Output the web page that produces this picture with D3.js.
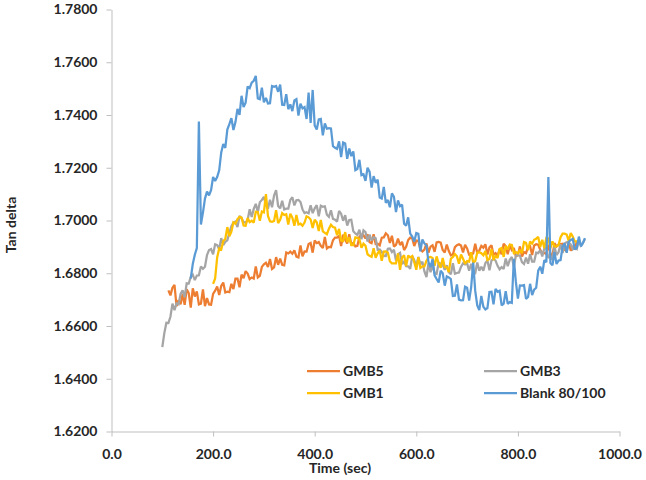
<!DOCTYPE html>
<html>
<head>
<meta charset="utf-8">
<script src="https://cdn.jsdelivr.net/npm/d3@7"></script>
<style>
  body { margin: 0; background: #fff; }
  svg { display: block; font-family: Lato, "Open Sans", sans-serif; }
</style>
</head>
<body>
<svg id="chart" width="646" height="480"></svg>
<script>
// traces were digitised every 4 seconds
const sampleStep = 4;

// GMB5 (starts at 112 s)
const gmb5Start = 112;
const gmb5Values = [
  1.6735, 1.6716, 1.6745, 1.6756, 1.6675, 1.6698, 1.6682, 1.6721, 1.6680, 1.6739, 1.6725, 1.6670, 1.6743, 1.6712, 1.6731, 1.6682, 1.6685, 1.6739, 1.6675, 1.6706,
  1.6682, 1.6681, 1.6722, 1.6734, 1.6750, 1.6718, 1.6752, 1.6765, 1.6727, 1.6730, 1.6728, 1.6760, 1.6740, 1.6780, 1.6780, 1.6747, 1.6795, 1.6781, 1.6808, 1.6799,
  1.6778, 1.6784, 1.6780, 1.6826, 1.6784, 1.6790, 1.6824, 1.6834, 1.6840, 1.6824, 1.6854, 1.6816, 1.6822, 1.6861, 1.6832, 1.6856, 1.6832, 1.6830, 1.6879, 1.6875,
  1.6882, 1.6874, 1.6887, 1.6863, 1.6860, 1.6905, 1.6864, 1.6883, 1.6882, 1.6911, 1.6915, 1.6878, 1.6924, 1.6914, 1.6918, 1.6904, 1.6896, 1.6938, 1.6894, 1.6900,
  1.6899, 1.6925, 1.6935, 1.6935, 1.6942, 1.6903, 1.6946, 1.6927, 1.6913, 1.6948, 1.6911, 1.6915, 1.6902, 1.6904, 1.6938, 1.6946, 1.6944, 1.6932, 1.6948, 1.6918,
  1.6914, 1.6948, 1.6911, 1.6912, 1.6906, 1.6935, 1.6936, 1.6951, 1.6944, 1.6915, 1.6942, 1.6901, 1.6908, 1.6931, 1.6907, 1.6919, 1.6888, 1.6900, 1.6926, 1.6935,
  1.6932, 1.6903, 1.6924, 1.6923, 1.6890, 1.6883, 1.6890, 1.6913, 1.6878, 1.6901, 1.6906, 1.6881, 1.6917, 1.6919, 1.6916, 1.6888, 1.6879, 1.6909, 1.6884, 1.6868,
  1.6871, 1.6899, 1.6906, 1.6910, 1.6905, 1.6879, 1.6908, 1.6894, 1.6870, 1.6869, 1.6875, 1.6912, 1.6876, 1.6886, 1.6904, 1.6897, 1.6910, 1.6871, 1.6898, 1.6906,
  1.6870, 1.6876, 1.6866, 1.6892, 1.6872, 1.6912, 1.6902, 1.6872, 1.6906, 1.6888, 1.6896, 1.6864, 1.6868, 1.6902, 1.6863, 1.6880, 1.6876, 1.6899, 1.6903, 1.6869,
  1.6905, 1.6910, 1.6908, 1.6889, 1.6877, 1.6877, 1.6873, 1.6908, 1.6874, 1.6867, 1.6914, 1.6901, 1.6908, 1.6911, 1.6912, 1.6889, 1.6884, 1.6921, 1.6885, 1.6900,
  1.6896, 1.6918, 1.6922
];

// GMB3 (starts at 100 s)
const gmb3Start = 100;
const gmb3Values = [
  1.6520, 1.6573, 1.6612, 1.6611, 1.6635, 1.6685, 1.6660, 1.6686, 1.6682, 1.6722, 1.6735, 1.6709, 1.6762, 1.6761, 1.6786, 1.6795, 1.6774, 1.6791, 1.6792, 1.6826,
  1.6817, 1.6825, 1.6869, 1.6888, 1.6892, 1.6872, 1.6910, 1.6907, 1.6891, 1.6933, 1.6907, 1.6919, 1.6925, 1.6954, 1.6978, 1.6992, 1.6996, 1.6975, 1.7017, 1.7009,
  1.6994, 1.6992, 1.7002, 1.7043, 1.7013, 1.7044, 1.7063, 1.7032, 1.7069, 1.7078, 1.7090, 1.7057, 1.7045, 1.7079, 1.7050, 1.7095, 1.7115, 1.7055, 1.7046, 1.7075,
  1.7042, 1.7045, 1.7045, 1.7078, 1.7088, 1.7057, 1.7077, 1.7078, 1.7070, 1.7042, 1.7028, 1.7031, 1.7027, 1.7058, 1.7028, 1.7046, 1.7058, 1.7016, 1.7056, 1.7052,
  1.7054, 1.7022, 1.7014, 1.7039, 1.7006, 1.7003, 1.6996, 1.7036, 1.7026, 1.6999, 1.7020, 1.6981, 1.7002, 1.7003, 1.6959, 1.6951, 1.6945, 1.6965, 1.6929, 1.6963,
  1.6956, 1.6920, 1.6946, 1.6925, 1.6937, 1.6933, 1.6889, 1.6890, 1.6881, 1.6866, 1.6865, 1.6893, 1.6894, 1.6880, 1.6889, 1.6848, 1.6872, 1.6877, 1.6835, 1.6844,
  1.6827, 1.6826, 1.6817, 1.6865, 1.6850, 1.6826, 1.6862, 1.6834, 1.6844, 1.6807, 1.6785, 1.6838, 1.6804, 1.6831, 1.6800, 1.6797, 1.6840, 1.6836, 1.6833, 1.6813,
  1.6830, 1.6804, 1.6796, 1.6838, 1.6798, 1.6801, 1.6803, 1.6824, 1.6838, 1.6833, 1.6837, 1.6810, 1.6836, 1.6801, 1.6800, 1.6841, 1.6810, 1.6825, 1.6810, 1.6839,
  1.6848, 1.6811, 1.6848, 1.6855, 1.6848, 1.6828, 1.6815, 1.6823, 1.6816, 1.6856, 1.6827, 1.6851, 1.6862, 1.6824, 1.6867, 1.6869, 1.6866, 1.6842, 1.6835, 1.6859,
  1.6836, 1.6872, 1.6844, 1.6844, 1.6878, 1.6876, 1.6888, 1.6864, 1.6894, 1.6896, 1.6858, 1.6866, 1.6850, 1.6901, 1.6869, 1.6880, 1.6910, 1.6877, 1.6913, 1.6918,
  1.6916, 1.6909, 1.6891, 1.6898, 1.6892, 1.6925, 1.6905, 1.6914, 1.6930
];

// GMB1 (starts at 200 s)
const gmb1Start = 200;
const gmb1Values = [
  1.6760, 1.6780, 1.6860, 1.6894, 1.6890, 1.6922, 1.6930, 1.6975, 1.6940, 1.6958, 1.6993, 1.6988, 1.7005, 1.7014, 1.7011, 1.6981, 1.6980, 1.7009, 1.6994, 1.6999,
  1.6992, 1.7033, 1.7032, 1.6999, 1.7034, 1.7031, 1.7100, 1.7017, 1.6997, 1.6995, 1.6998, 1.7039, 1.6990, 1.7003, 1.7028, 1.7021, 1.7024, 1.6985, 1.7026, 1.7011,
  1.6980, 1.7021, 1.6985, 1.6988, 1.6980, 1.6992, 1.7016, 1.7012, 1.7004, 1.6972, 1.7003, 1.6993, 1.6960, 1.7002, 1.6959, 1.6953, 1.6948, 1.6969, 1.6984, 1.6975,
  1.6973, 1.6944, 1.6968, 1.6924, 1.6922, 1.6956, 1.6918, 1.6936, 1.6907, 1.6907, 1.6936, 1.6934, 1.6929, 1.6897, 1.6912, 1.6904, 1.6872, 1.6866, 1.6862, 1.6895,
  1.6859, 1.6876, 1.6886, 1.6847, 1.6882, 1.6883, 1.6878, 1.6846, 1.6837, 1.6837, 1.6837, 1.6875, 1.6813, 1.6860, 1.6868, 1.6827, 1.6867, 1.6860, 1.6865, 1.6842,
  1.6813, 1.6861, 1.6820, 1.6826, 1.6826, 1.6847, 1.6860, 1.6862, 1.6858, 1.6828, 1.6864, 1.6837, 1.6821, 1.6858, 1.6824, 1.6823, 1.6804, 1.6855, 1.6862, 1.6873,
  1.6864, 1.6836, 1.6871, 1.6855, 1.6836, 1.6846, 1.6844, 1.6880, 1.6840, 1.6846, 1.6878, 1.6880, 1.6876, 1.6868, 1.6884, 1.6850, 1.6854, 1.6892, 1.6850, 1.6866,
  1.6858, 1.6892, 1.6896, 1.6862, 1.6904, 1.6890, 1.6909, 1.6907, 1.6876, 1.6880, 1.6875, 1.6889, 1.6876, 1.6918, 1.6915, 1.6887, 1.6920, 1.6912, 1.6927, 1.6931,
  1.6938, 1.6900, 1.6927, 1.6895, 1.6934, 1.6932, 1.6895, 1.6921, 1.6902, 1.6902, 1.6907, 1.6937, 1.6950, 1.6950, 1.6947, 1.6923, 1.6952, 1.6939, 1.6920, 1.6921,
  1.6922
];

// Blank 80/100 (starts at 156 s)
const blankStart = 156;
const blankValues = [
  1.6780, 1.6835, 1.6870, 1.6895, 1.7375, 1.6985, 1.7030, 1.7083, 1.7110, 1.7095, 1.7115, 1.7165, 1.7150, 1.7165, 1.7190, 1.7258, 1.7290, 1.7275, 1.7345, 1.7365,
  1.7388, 1.7343, 1.7373, 1.7423, 1.7400, 1.7473, 1.7430, 1.7447, 1.7508, 1.7502, 1.7523, 1.7530, 1.7548, 1.7463, 1.7460, 1.7504, 1.7448, 1.7465, 1.7444, 1.7445,
  1.7510, 1.7507, 1.7510, 1.7488, 1.7515, 1.7439, 1.7438, 1.7479, 1.7422, 1.7440, 1.7415, 1.7455, 1.7460, 1.7398, 1.7443, 1.7425, 1.7430, 1.7385, 1.7485, 1.7370,
  1.7495, 1.7360, 1.7345, 1.7383, 1.7385, 1.7323, 1.7368, 1.7348, 1.7350, 1.7349, 1.7282, 1.7276, 1.7272, 1.7300, 1.7240, 1.7296, 1.7292, 1.7234, 1.7273, 1.7244,
  1.7262, 1.7191, 1.7195, 1.7230, 1.7172, 1.7175, 1.7150, 1.7200, 1.7185, 1.7125, 1.7168, 1.7143, 1.7155, 1.7087, 1.7083, 1.7127, 1.7067, 1.7078, 1.7050, 1.7103,
  1.7090, 1.7032, 1.7076, 1.7054, 1.7060, 1.6988, 1.6980, 1.7012, 1.6950, 1.6939, 1.6920, 1.6953, 1.6950, 1.6883, 1.6928, 1.6913, 1.6905, 1.6842, 1.6823, 1.6854,
  1.6792, 1.6778, 1.6765, 1.6810, 1.6800, 1.6753, 1.6788, 1.6784, 1.6778, 1.6714, 1.6715, 1.6758, 1.6700, 1.6697, 1.6698, 1.6749, 1.6745, 1.6696, 1.6747, 1.6840,
  1.6733, 1.6678, 1.6660, 1.6714, 1.6673, 1.6663, 1.6668, 1.6729, 1.6730, 1.6682, 1.6741, 1.6730, 1.6734, 1.6678, 1.6685, 1.6732, 1.6684, 1.6691, 1.6688, 1.6855,
  1.6767, 1.6704, 1.6754, 1.6753, 1.6755, 1.6703, 1.6710, 1.6760, 1.6717, 1.6738, 1.6745, 1.6810, 1.6825, 1.6798, 1.6850, 1.6842, 1.7165, 1.6839, 1.6830, 1.6880,
  1.6835, 1.6848, 1.6850, 1.6902, 1.6913, 1.6878, 1.6919, 1.6926, 1.6930, 1.6890, 1.6897, 1.6939, 1.6902, 1.6915, 1.6933
];

const seriesNames = ["GMB5", "GMB3", "GMB1", "Blank 80/100"];
const seriesColors = ["#ED7D31", "#A5A5A5", "#FFC000", "#5B9BD5"];

const xTicks = [0, 200, 400, 600, 800, 1000];
const yTicks = [1.62, 1.64, 1.66, 1.68, 1.70, 1.72, 1.74, 1.76, 1.78];

function toPoints(start, values) {
  return values.map((v, i) => ({ t: start + i * sampleStep, v: v }));
}

const series = [
  { name: seriesNames[0], color: seriesColors[0], points: toPoints(gmb5Start, gmb5Values) },
  { name: seriesNames[1], color: seriesColors[1], points: toPoints(gmb3Start, gmb3Values) },
  { name: seriesNames[2], color: seriesColors[2], points: toPoints(gmb1Start, gmb1Values) },
  { name: seriesNames[3], color: seriesColors[3], points: toPoints(blankStart, blankValues) }
];

const svg = d3.select("#chart");

const x = d3.scaleLinear().domain([0, 1000]).range([111.5, 619.5]);
const y = d3.scaleLinear().domain([1.62, 1.78]).range([431.5, 9.5]);

const axisColor = "#bfbfbf";
const textColor = "#262626";

// y axis
const yAxis = svg.append("g")
    .attr("transform", `translate(${x(0)},0)`)
    .call(d3.axisLeft(y).tickValues(yTicks).tickFormat(d3.format(".4f"))
        .tickSize(5).tickSizeOuter(0).tickPadding(9));

// x axis
const xAxis = svg.append("g")
    .attr("transform", `translate(0,${y(1.62)})`)
    .call(d3.axisBottom(x).tickValues(xTicks).tickFormat(d3.format(".1f"))
        .tickSize(5).tickSizeOuter(0));

xAxis.selectAll("text").attr("y", 27).attr("dy", null);

[xAxis, yAxis].forEach(g => {
  g.select(".domain").attr("stroke", axisColor).attr("stroke-width", 1);
  g.selectAll(".tick line").attr("stroke", axisColor).attr("stroke-width", 1);
  g.selectAll("text")
      .attr("fill", textColor)
      .style("font-size", "14px")
      .style("font-weight", "bold")
      .style("font-family", "Lato, 'Open Sans', sans-serif");
});

// data lines
const line = d3.line()
    .x(d => x(d.t))
    .y(d => y(d.v));

svg.append("g")
    .selectAll("path")
    .data(series)
    .join("path")
    .attr("fill", "none")
    .attr("stroke", d => d.color)
    .attr("stroke-width", 2.25)
    .attr("stroke-linejoin", "miter")
    .attr("stroke-miterlimit", 2)
    .attr("d", d => line(d.points));

// axis titles
svg.append("text")
    .attr("x", 340)
    .attr("y", 473)
    .attr("text-anchor", "middle")
    .attr("fill", textColor)
    .style("font-size", "14px")
    .style("font-weight", "bold")
    .text("Time (sec)");

svg.append("text")
    .attr("transform", "translate(15.5,225) rotate(-90)")
    .attr("text-anchor", "middle")
    .attr("fill", textColor)
    .style("font-size", "14px")
    .style("font-weight", "bold")
    .text("Tan delta");

// legend, two columns x two rows
const legendPos = [
  { x: 307, y: 371 },
  { x: 484, y: 371 },
  { x: 307, y: 393 },
  { x: 484, y: 393 }
];

const legend = svg.append("g")
    .selectAll("g")
    .data(series)
    .join("g")
    .attr("transform", (d, i) => `translate(${legendPos[i].x},${legendPos[i].y})`);

legend.append("line")
    .attr("x1", 0).attr("x2", 33)
    .attr("y1", 0).attr("y2", 0)
    .attr("stroke", d => d.color)
    .attr("stroke-width", 2.25);

legend.append("text")
    .attr("x", 36)
    .attr("dy", "0.36em")
    .attr("fill", textColor)
    .style("font-size", "14px")
    .style("font-weight", "bold")
    .text(d => d.name);
</script>
</body>
</html>
